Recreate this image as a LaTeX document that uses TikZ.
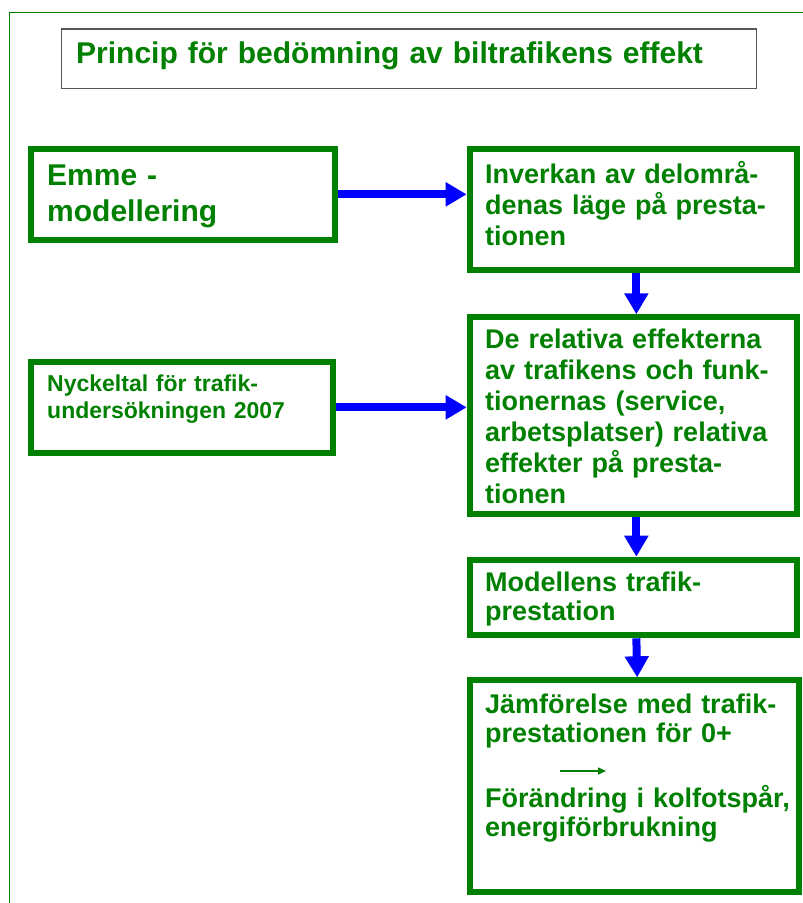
\documentclass[tikz,border=0pt]{standalone}
\usepackage{fontspec}
\setmainfont{Liberation Sans}[Ligatures=NoCommon]
\usepackage{xcolor}
\usepackage{tikz}
\usetikzlibrary{arrows.meta}
\definecolor{ColGreen}{RGB}{0,128,0}
\definecolor{ColBlue}{RGB}{0,0,255}
\definecolor{ColFrame}{RGB}{85,85,85}

\begin{document}
\begin{tikzpicture}[
  x=1pt, y=-1pt,
  >={Triangle[length=21pt,width=23pt]},
  box/.style={draw=ColGreen, line width=6pt, anchor=north west, inner sep=0pt},
  txt/.style 2 args={ColGreen, anchor=base west, inner sep=0pt, text width=315pt,
    align=left, font=\bfseries\fontsize{#1}{#2}\selectfont},
  flow/.style={->, line width=8pt, ColBlue}
]
  \useasboundingbox (0,0) rectangle (803,903);

  % Frame, only top and left edge in view
  \coordinate (fr) at (9.7,12.3);
  \draw[ColGreen, line width=1.5pt] (803,12.3) -- (fr) -- (9.7,903);

  % Title
  \node[draw=ColFrame, line width=1.5pt, anchor=north west, inner sep=0pt,
        minimum width=694.8pt, minimum height=59.5pt] (titlebox) at (60.7,28.3) {};
  \node[txt={30pt}{36pt}, text width=700pt] (title) at (76,63.3)
    {Princip för bedömning av biltrafikens effekt};

  % Boxes
  \node[box, minimum width=304pt, minimum height=90.7pt] (emme)     at (28.3,146)  {};
  \node[box, minimum width=302pt, minimum height=91.3pt] (nyckel)   at (28.3,358.7) {};
  \node[box, minimum width=327.3pt, minimum height=121pt] (inverkan) at (466.7,146) {};
  \node[box, minimum width=327.3pt, minimum height=196.4pt] (relativa) at (466.7,314.3) {};
  \node[box, minimum width=327.3pt, minimum height=75.6pt] (modell)   at (466.7,556.7) {};
  \node[box, minimum width=329pt, minimum height=211.7pt] (jamfor)   at (466.7,677.3) {};

  % Box texts
  \node[txt={30pt}{36.7pt}] (emmetxt) at (47,185) {Emme -\\modellering};
  \node[txt={23pt}{26.7pt}] (nyckeltxt) at (47,391.7)
    {Nyckeltal för trafik-\\undersökningen 2007};
  \node[txt={27pt}{31pt}] (inverkantxt) at (485,183.3)
    {Inverkan av delområ-\\denas läge på presta-\\tionen};
  \node[txt={27pt}{31pt}] (relativatxt) at (485,348.8)
    {De relativa effekterna\\av trafikens och funk-\\tionernas (service,\\arbetsplatser) relativa\\effekter på presta-\\tionen};
  \node[txt={27pt}{29pt}] (modelltxt) at (485,591.7)
    {Modellens trafik-\\prestation};
  \node[txt={27pt}{29pt}] (jamfortxt) at (485,713.3)
    {Jämförelse med trafik-\\prestationen för 0+\\[36pt]Förändring i kolfotspår,\\energiförbrukning};

  % Small arrow inside the last box
  \coordinate (sa) at (560,771);
  \coordinate (sb) at (606,771);
  \draw[-{Triangle[length=8pt,width=7pt]}, ColGreen, line width=1.5pt] (sa) -- (sb);

  % Flow arrows
  \draw[flow] (emme) -- (inverkan.west |- emme);
  \draw[flow] (nyckel) -- (relativa.west |- nyckel);
  \draw[flow] ([xshift=3pt]inverkan.south) -- ([xshift=3pt]relativa.north);
  \draw[flow] ([xshift=3pt]relativa.south) -- ([xshift=3pt]modell.north);
  \draw[flow] ([xshift=3pt]modell.south) -- ([xshift=3pt]jamfor.north);
\end{tikzpicture}
\end{document}
